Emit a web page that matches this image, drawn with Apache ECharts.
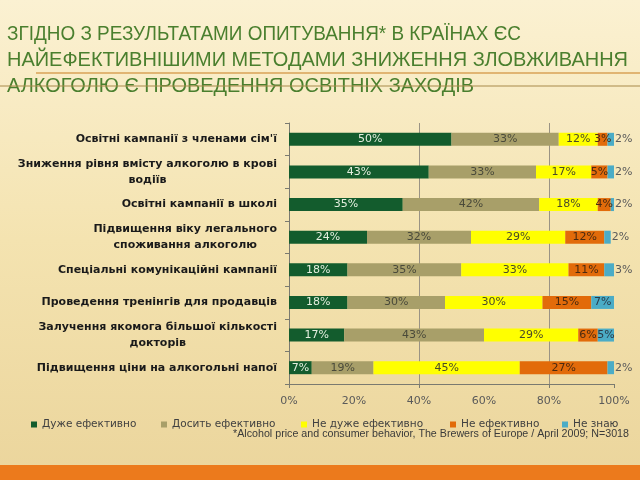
<!DOCTYPE html>
<html><head><meta charset="utf-8">
<script src="https://cdn.jsdelivr.net/npm/echarts@6/dist/echarts.min.js"></script>
<style>html,body{margin:0;padding:0;}#c{width:640px;height:480px;}</style>
</head><body><div id="c"></div>
<script>
var categories = [
  "Освітні кампанії з членами сім'ї",
  "Зниження рівня вмісту алкоголю в крові\nводіїв",
  "Освітні кампанії в школі",
  "Підвищення віку легального\nспоживання алкоголю",
  "Спеціальні комунікаційні кампанії",
  "Проведення тренінгів для продавців",
  "Залучення якомога більшої кількості\nдокторів",
  "Підвищення ціни на алкогольні напої"
];
var seriesNames = ["Дуже ефективно", "Досить ефективно", "Не дуже ефективно", "Не ефективно", "Не знаю"];
var veryEffective = [50, 43, 35, 24, 18, 18, 17, 7];
var quiteEffective = [33, 33, 42, 32, 35, 30, 43, 19];
var notVeryEffective = [12, 17, 18, 29, 33, 30, 29, 45];
var notEffective = [3, 5, 4, 12, 11, 15, 6, 27];
var dontKnow = [2, 2, 2, 2, 3, 7, 5, 2];
var titleLines = [
  "ЗГІДНО З РЕЗУЛЬТАТАМИ ОПИТУВАННЯ* В КРАЇНАХ ЄС",
  "НАЙЕФЕКТИВНІШИМИ МЕТОДАМИ ЗНИЖЕННЯ ЗЛОВЖИВАННЯ",
  "АЛКОГОЛЮ Є ПРОВЕДЕННЯ ОСВІТНІХ ЗАХОДІВ"
];
var footnote = "*Alcohol price and consumer behavior, The Brewers of Europe / April 2009; N=3018";

var colors = ['#135c2d', '#a89f69', '#ffff00', '#e26b0a', '#4bacc6'];
var labelColors = ['#e4eede', '#4a4a3a', '#4a4a2a', '#4a2a10', '#2a3a48'];
var values = [veryEffective, quiteEffective, notVeryEffective, notEffective, dontKnow];
var legendLeft = [31, 161, 301, 450, 562];

var mctx = document.createElement('canvas').getContext('2d');
function textWidth(t, font) { mctx.font = font; return mctx.measureText(t).width; }
var titleFont = '21px "Liberation Sans"';
var titleWidths = [514, 621, 467];
var footFont = '11px "Liberation Sans"';
var footScale = 396 / textWidth(footnote, footFont);
var titleY = [34.5, 60, 86];

var chart = echarts.init(document.getElementById('c'), null, {renderer: 'canvas'});
var series = values.map(function (arr, i) {
  return {
    name: seriesNames[i], type: 'bar', stack: 'total', xAxisIndex: 0,
    barWidth: 13, itemStyle: {color: colors[i]},
    label: {show: true, position: 'inside', formatter: '{c}%', fontFamily: 'DejaVu Sans', fontSize: 11, color: labelColors[i]},
    data: arr.map(function (v) {
      if (i === 4 && v < 4) {
        return {value: v, label: {position: 'right', distance: 1, color: '#5a5a5a'}};
      }
      return v;
    })
  };
});

var graphics = titleLines.map(function (t, i) {
  return {type: 'text', x: 7, y: titleY[i], scaleX: titleWidths[i] / textWidth(t, titleFont), z: 5,
    style: {text: t, font: titleFont, fill: '#4a7f2e', textVerticalAlign: 'middle', verticalAlign: 'middle'}};
});
graphics.push(
  {type: 'line', shape: {x1: 36, y1: 73, x2: 640, y2: 73}, style: {stroke: '#d9a257', lineWidth: 1.5}, z: 10},
  {type: 'line', shape: {x1: 0, y1: 86, x2: 640, y2: 86}, style: {stroke: '#a88a4a', lineWidth: 1}, z: 10},
  {type: 'rect', shape: {x: 0, y: 465, width: 640, height: 15}, style: {fill: '#ec7a1c'}},
  {type: 'text', x: 629, y: 434, scaleX: footScale, z: 10,
    style: {text: footnote, font: footFont, fill: '#3a3a3a', align: 'right', textAlign: 'right', verticalAlign: 'middle', textVerticalAlign: 'middle'}}
);

var option = {
  animation: false,
  backgroundColor: {type: 'linear', x: 0, y: 0, x2: 0, y2: 1, colorStops: [
    {offset: 0, color: '#fbf1d2'}, {offset: 0.5, color: '#f4e3b0'}, {offset: 1, color: '#ebd59c'}]},
  legend: seriesNames.map(function (n, i) {
    return {data: [n], left: legendLeft[i], top: 419, padding: 0, icon: 'rect', itemWidth: 6, itemHeight: 6, itemGap: 4,
      textStyle: {fontFamily: 'DejaVu Sans', fontSize: 10.5, color: '#404040'}};
  }),
  grid: {left: 289, top: 123, width: 325, height: 261},
  xAxis: [
    {type: 'value', min: 0, max: 100, interval: 20, position: 'bottom',
      axisLine: {show: true, lineStyle: {color: '#7a7a70'}},
      axisTick: {show: false}, splitLine: {show: false},
      axisLabel: {formatter: '{value}%', fontFamily: 'DejaVu Sans', fontSize: 11, color: '#5a5a5a', margin: 12}},
    {type: 'value', min: 0, max: 100, interval: 40, position: 'bottom',
      axisLine: {show: false}, axisLabel: {show: false},
      axisTick: {show: true, length: 4, lineStyle: {color: '#7a7a70'}},
      splitLine: {show: true, showMinLine: false, showMaxLine: false, lineStyle: {color: '#9a9384', width: 1}}}
  ],
  yAxis: {
    type: 'category', data: categories, inverse: true,
    axisLine: {show: true, lineStyle: {color: '#7a7a70'}},
    axisTick: {show: true, length: 4, lineStyle: {color: '#7a7a70'}},
    axisLabel: {
      margin: 12, color: '#1a1a1a', fontFamily: 'DejaVu Sans', fontWeight: 'bold', fontSize: 11, lineHeight: 16,
      formatter: function (v) { return v.split('\n').map(function (l) { return '{c|' + l + '}'; }).join('\n'); },
      rich: {c: {align: 'center', fontFamily: 'DejaVu Sans', fontWeight: 'bold', fontSize: 11, lineHeight: 16, color: '#1a1a1a'}}
    }
  },
  graphic: graphics,
  series: series
};
chart.setOption(option);
</script></body></html>
